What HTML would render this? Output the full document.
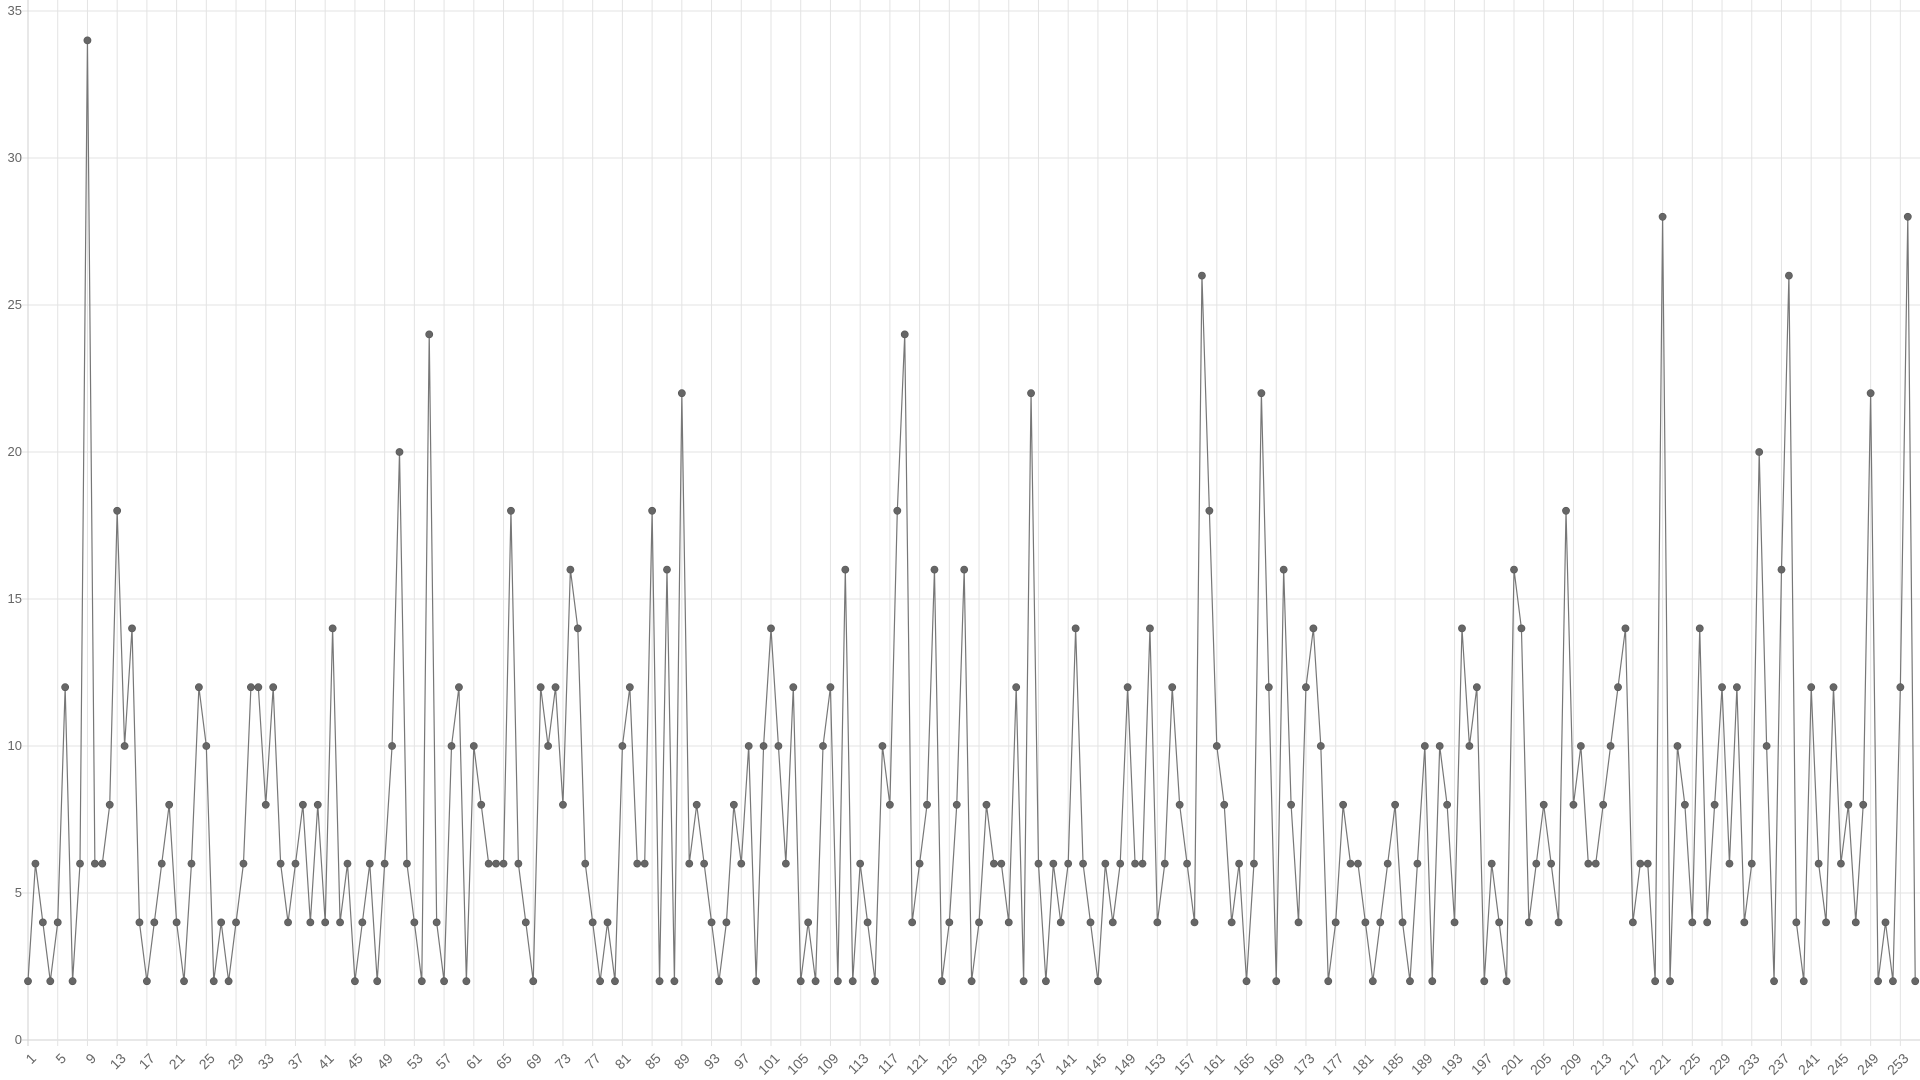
<!DOCTYPE html>
<html><head><meta charset="utf-8"><style>
html,body{margin:0;padding:0;background:#fff;width:1920px;height:1080px;overflow:hidden;font-family:"Liberation Sans",sans-serif;}
#c{position:absolute;left:0;top:0}
.yl{position:absolute;right:1898px;font-size:13px;color:#666;line-height:14px;text-align:right}
#xl{position:absolute;top:1050px;left:13.14px;display:flex}
#xl div{width:29.72px;position:relative;height:20px}
#xl span{position:absolute;right:50%;top:0;font-size:14px;color:#666;transform-origin:100% 0;transform:rotate(-45deg);white-space:nowrap}
</style></head><body>
<svg id="c" width="1920" height="1080" xmlns="http://www.w3.org/2000/svg"></svg>
<div class="yl" style="top:1033px">0</div>
<div class="yl" style="top:886px">5</div>
<div class="yl" style="top:739px">10</div>
<div class="yl" style="top:592px">15</div>
<div class="yl" style="top:445px">20</div>
<div class="yl" style="top:298px">25</div>
<div class="yl" style="top:151px">30</div>
<div class="yl" style="top:4px">35</div>
<div id="xl"><div><span>1</span></div><div><span>5</span></div><div><span>9</span></div><div><span>13</span></div><div><span>17</span></div><div><span>21</span></div><div><span>25</span></div><div><span>29</span></div><div><span>33</span></div><div><span>37</span></div><div><span>41</span></div><div><span>45</span></div><div><span>49</span></div><div><span>53</span></div><div><span>57</span></div><div><span>61</span></div><div><span>65</span></div><div><span>69</span></div><div><span>73</span></div><div><span>77</span></div><div><span>81</span></div><div><span>85</span></div><div><span>89</span></div><div><span>93</span></div><div><span>97</span></div><div><span>101</span></div><div><span>105</span></div><div><span>109</span></div><div><span>113</span></div><div><span>117</span></div><div><span>121</span></div><div><span>125</span></div><div><span>129</span></div><div><span>133</span></div><div><span>137</span></div><div><span>141</span></div><div><span>145</span></div><div><span>149</span></div><div><span>153</span></div><div><span>157</span></div><div><span>161</span></div><div><span>165</span></div><div><span>169</span></div><div><span>173</span></div><div><span>177</span></div><div><span>181</span></div><div><span>185</span></div><div><span>189</span></div><div><span>193</span></div><div><span>197</span></div><div><span>201</span></div><div><span>205</span></div><div><span>209</span></div><div><span>213</span></div><div><span>217</span></div><div><span>221</span></div><div><span>225</span></div><div><span>229</span></div><div><span>233</span></div><div><span>237</span></div><div><span>241</span></div><div><span>245</span></div><div><span>249</span></div><div><span>253</span></div></div>
<script>
var d=[2,6,4,2,4,12,2,6,34,6,6,8,18,10,14,4,2,4,6,8,4,2,6,12,10,2,4,2,4,6,12,12,8,12,6,4,6,8,4,8,4,14,4,6,2,4,6,2,6,10,20,6,4,2,24,4,2,10,12,2,10,8,6,6,6,18,6,4,2,12,10,12,8,16,14,6,4,2,4,2,10,12,6,6,18,2,16,2,22,6,8,6,4,2,4,8,6,10,2,10,14,10,6,12,2,4,2,10,12,2,16,2,6,4,2,10,8,18,24,4,6,8,16,2,4,8,16,2,4,8,6,6,4,12,2,22,6,2,6,4,6,14,6,4,2,6,4,6,12,6,6,14,4,6,12,8,6,4,26,18,10,8,4,6,2,6,22,12,2,16,8,4,12,14,10,2,4,8,6,6,4,2,4,6,8,4,2,6,10,2,10,8,4,14,10,12,2,6,4,2,16,14,4,6,8,6,4,18,8,10,6,6,8,10,12,14,4,6,6,2,28,2,10,8,4,14,4,8,12,6,12,4,6,20,10,2,16,26,4,2,12,6,4,12,6,8,4,8,22,2,4,2,12,28,2];
var X0=28,S=7.43,Y0=1040,U=29.4,s='';
for(var k=0;k<=7;k++){var y=Y0-k*5*U;s+='<line x1="22" x2="1920" y1="'+y+'" y2="'+y+'" stroke="'+(k?'#e3e3e3':'#d0d0d0')+'" stroke-width="1"/>';}
for(var i=1;i<=255;i+=4){var x=X0+(i-1)*S;s+='<line x1="'+x+'" x2="'+x+'" y1="0" y2="1046" stroke="#e3e3e3" stroke-width="1"/>';}
s+='<line x1="'+X0+'" x2="'+X0+'" y1="0" y2="1046" stroke="#d0d0d0"/>';
var p='';for(var i=0;i<d.length;i++){p+=(X0+i*S).toFixed(2)+','+(Y0-d[i]*U).toFixed(2)+' ';}
s+='<polyline points="'+p+'" fill="none" stroke="#777" stroke-width="1.2"/>';
for(var i=0;i<d.length;i++){s+='<circle cx="'+(X0+i*S).toFixed(2)+'" cy="'+(Y0-d[i]*U).toFixed(2)+'" r="3.6" fill="#666" stroke="#555" stroke-width="0.6"/>';}
document.getElementById('c').innerHTML=s;
</script>
</body></html>
